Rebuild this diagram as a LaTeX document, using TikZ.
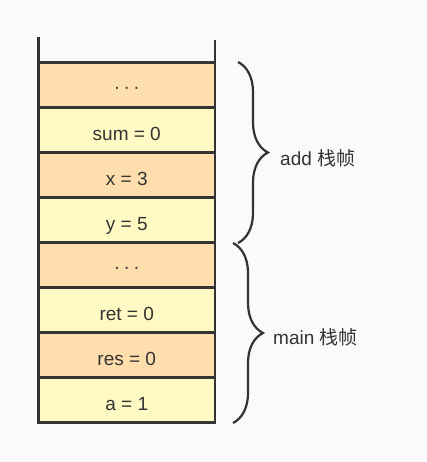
\documentclass[tikz,border=0pt]{standalone}
\usepackage{fontspec}
\setmainfont{Liberation Sans}
\newfontfamily\cjk{Noto Sans CJK SC}
\usepackage{tikz}
\usetikzlibrary{calc}
\usetikzlibrary{decorations.pathreplacing}
\definecolor{paper}{RGB}{250, 250, 250}
\definecolor{peach}{RGB}{255, 222, 173}
\definecolor{cream}{RGB}{255, 249, 196}
\definecolor{ink}{RGB}{51, 51, 51}
\newcommand{\stackdots}{\raisebox{2pt}{·\hspace{3.5pt}·\hspace{3.5pt}·}}

\tikzset{
  cell/.style={draw=ink, line width=2.5pt, minimum width=176.5pt, minimum height=45pt,
               inner sep=0pt, outer sep=0pt, text height=20pt, text depth=0pt,
               text=ink, font=\fontsize{19}{22}\selectfont},
  framebrace/.style={draw=ink, line width=2.2pt, decorate, decoration={brace, amplitude=30pt}},
  framelabel/.style={anchor=west, inner sep=0pt, text=ink, font=\fontsize{19}{22}\selectfont}
}

\begin{document}
\begin{tikzpicture}[x=1pt, y=-1pt]
  \fill[paper] (0,0) rectangle (427,462);
  % stack cells, top to bottom
  \foreach \i/\txt/\col in {1/{\stackdots}/peach, 2/{sum = 0}/cream, 3/{x = 3}/peach, 4/{y = 5}/cream,
                            5/{\stackdots}/peach, 6/{ret = 0}/cream, 7/{res = 0}/peach, 8/{a = 1}/cream}
    \node[cell, fill=\col] (r\i) at (126.75, 40.2+45*\i) {\txt};
  % open top of the stack
  \coordinate (topl) at (38.5, 37);
  \coordinate (topr) at (215, 40);
  \draw[ink, line width=2.5pt] (topl) -- (r1.north west);
  \draw[ink, line width=2.5pt] (topr) -- (r1.north east);
  % frame braces
  \coordinate (adda) at (238, 62);
  \coordinate (addb) at (238, 243);
  \coordinate (maina) at (233, 243);
  \coordinate (mainb) at (233, 423);
  \draw[framebrace] (adda) -- (addb);
  \draw[framebrace] (maina) -- (mainb);
  \node[framelabel] (addlbl)  at (280, 158) {add {\cjk 栈帧}};
  \node[framelabel] (mainlbl) at (273, 337) {main {\cjk 栈帧}};
\end{tikzpicture}
\end{document}
